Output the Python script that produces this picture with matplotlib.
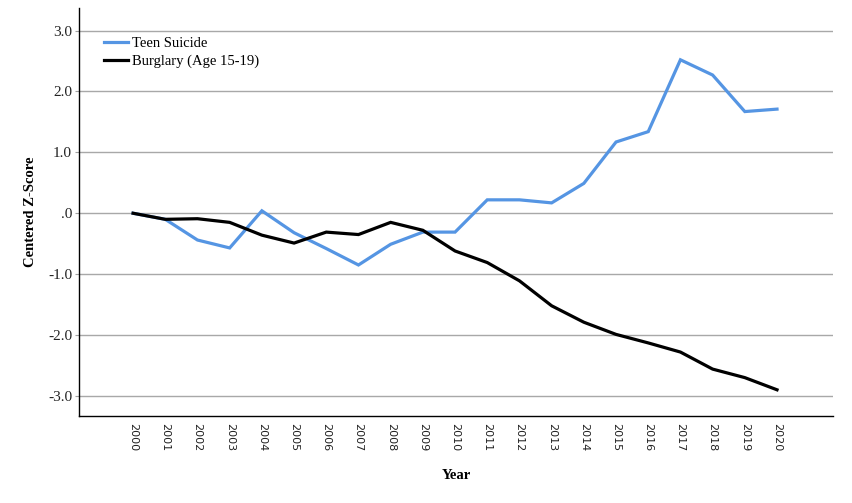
import matplotlib
matplotlib.use("Agg")
import matplotlib.pyplot as plt

years = [str(y) for y in range(2000, 2021)]
teen_suicide = [0.00, -0.10, -0.44, -0.57, 0.04, -0.32, -0.58, -0.85, -0.51, -0.31,
                -0.31, 0.22, 0.22, 0.17, 0.49, 1.17, 1.34, 2.52, 2.27, 1.67, 1.71]
burglary = [0.00, -0.10, -0.09, -0.15, -0.36, -0.49, -0.31, -0.35, -0.15, -0.28,
            -0.62, -0.81, -1.11, -1.52, -1.79, -1.99, -2.13, -2.28, -2.56, -2.70, -2.90]
y_ticks = [-3, -2, -1, 0, 1, 2, 3]
y_labels = ["-3.0", "-2.0", "-1.0", ".0", "1.0", "2.0", "3.0"]

serif = ["Liberation Serif", "DejaVu Serif"]

fig = plt.figure(figsize=(8.53, 5.03), dpi=100)
ax = fig.add_axes([0.0926, 0.173, 0.884, 0.811])

x = list(range(len(years)))
ax.plot(x, teen_suicide, color="#5595e3", lw=2.3, label="Teen Suicide", solid_joinstyle="miter")
ax.plot(x, burglary, color="black", lw=2.3, label="Burglary (Age 15-19)", solid_joinstyle="miter")

ax.set_xlim(-1.68, 21.74)
ax.set_ylim(-3.33, 3.37)
ax.set_yticks(y_ticks)
ax.set_yticklabels(y_labels, family=serif, fontsize=11, fontweight="normal", color="#222222")
ax.set_xticks(x)
ax.set_xticklabels(years, rotation=270, fontsize=8, family="DejaVu Sans", color="#222222")
ax.tick_params(axis="x", length=0, pad=5)
ax.tick_params(axis="y", length=3, color="#a0a0a0", pad=2)
ax.grid(axis="y", color="#a8a8a8", lw=1)
ax.set_axisbelow(True)

for s in ["top", "right"]:
    ax.spines[s].set_visible(False)
ax.spines["left"].set_linewidth(1)
ax.spines["bottom"].set_linewidth(1)

ax.set_xlabel("Year", family=serif, fontweight="bold", fontsize=10.5, labelpad=13)
ax.set_ylabel("Centered Z-Score", family=serif, fontweight="bold", fontsize=10.5, labelpad=8)

leg = ax.legend(loc="upper left", bbox_to_anchor=(0.02, 0.955), frameon=False,
                prop={"family": serif, "size": 10.5}, handlelength=1.6,
                handletextpad=0.3, labelspacing=0.35, borderaxespad=0.3)

fig.savefig("out.png", dpi=100)
